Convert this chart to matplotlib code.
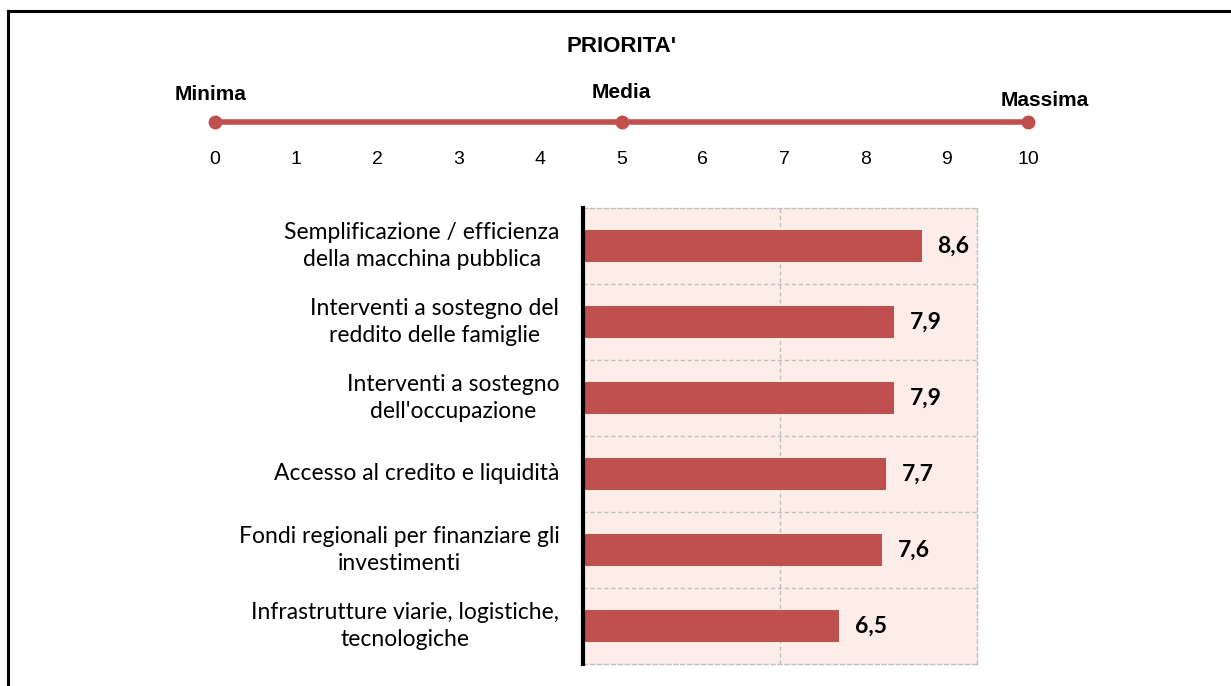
import numpy as np
import matplotlib.pyplot as plt

# dati
categorie = [
    "Semplificazione / efficienza\ndella macchina pubblica",
    "Interventi a sostegno del\nreddito delle famiglie",
    "Interventi a sostegno\ndell'occupazione",
    "Accesso al credito e liquidità",
    "Fondi regionali per finanziare gli\ninvestimenti",
    "Infrastrutture viarie, logistiche,\ntecnologiche",
]
valori = [8.6, 7.9, 7.9, 7.7, 7.6, 6.5]
scala = list(range(0, 11))
punti_scala = [0, 5, 10]
etichette_scala = ["Minima", "Media", "Massima"]

rosso = '#C0504D'
fondo = '#FCEDE8'
griglia = '#BFBFBF'

W, H = 1231, 686
fig = plt.figure(figsize=(W / 100, H / 100), dpi=100)


def box(x0, y0, x1, y1):
    # pixel -> coordinate figura
    return [x0 / W, 1 - y1 / H, (x1 - x0) / W, (y1 - y0) / H]


# cornice (solo sinistra e sopra)
fig.add_artist(plt.Line2D([8 / W, 8 / W], [0, 1 - 11 / H], color='black', lw=2.2))
fig.add_artist(plt.Line2D([8 / W, 1], [1 - 11 / H, 1 - 11 / H], color='black', lw=2.2))

# scala priorita'
ax_s = fig.add_axes(box(215, 62, 1028, 182))
ax_s.set_xlim(0, 10)
ax_s.set_ylim(0, 1)
ax_s.axis('off')
ax_s.plot([scala[0], scala[-1]], [0.5, 0.5], color=rosso, lw=4, solid_capstyle='butt',
          clip_on=False)
ax_s.plot(punti_scala, [0.5] * len(punti_scala), 'o', color=rosso, ms=9, clip_on=False)
for v in scala:
    ax_s.text(v, 0.185, str(v), ha='center', va='center', fontsize=14,
              family='Liberation Sans')
offs = [(-0.05, 0.725), (0.0, 0.75), (0.21, 0.683)]
for v, t, (dx, o) in zip(punti_scala, etichette_scala, offs):
    ax_s.text(v + dx, o, t, ha='center', va='center', fontsize=15, fontweight='bold',
              family='Liberation Sans')
fig.text(621 / W, 1 - 47 / H, "PRIORITA'", ha='center', va='center', fontsize=16,
         fontweight='bold', family='Liberation Sans')

# barre
ax = fig.add_axes(box(583, 208, 977, 664))
ax.set_facecolor(fondo)
y = np.arange(len(categorie))
ax.barh(y, valori, height=0.41, color=rosso, zorder=3)
ax.set_xlim(0, 10)
ax.set_ylim(len(categorie) - 0.5, -0.5)
ax.set_xticks([])
ax.set_yticks([])
for yy in np.arange(0.5, len(categorie) - 0.5):
    ax.axhline(yy, color=griglia, ls=(0, (3, 2)), lw=1, zorder=1)
ax.axvline(5, color=griglia, ls=(0, (3, 2)), lw=1, zorder=1)
for s in ['top', 'right', 'bottom']:
    ax.spines[s].set_color(griglia)
    ax.spines[s].set_linestyle((0, (3, 2)))
    ax.spines[s].set_linewidth(1)
ax.spines['left'].set_color('black')
ax.spines['left'].set_linewidth(3)
ax.spines['left'].set_zorder(5)

for yy, v, c in zip(y, valori, categorie):
    ax.text(v + 0.4, yy, f"{v:.1f}".replace('.', ','), ha='left', va='center',
            fontsize=16.5, fontweight='bold', family='Lato')
    ax.text(-0.6, yy, c, ha='right', va='center', multialignment='center',
            fontsize=16.5, family='Lato', linespacing=1.4, clip_on=False)

fig.savefig('out.png', dpi=100, facecolor='white')
